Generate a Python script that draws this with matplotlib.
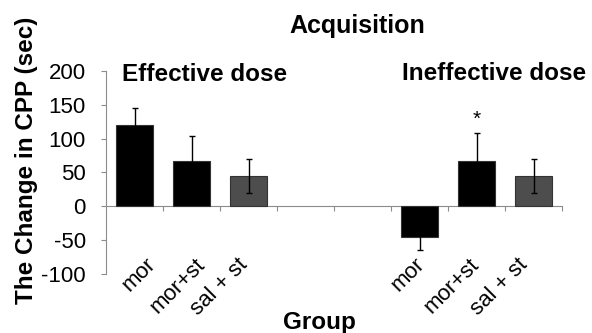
import numpy as np
import matplotlib
matplotlib.use("Agg")
import matplotlib.pyplot as plt
import matplotlib.transforms as mtransforms

plt.rcParams['font.family'] = ['Liberation Sans', 'DejaVu Sans']
plt.rcParams['axes.unicode_minus'] = False

categories = ['mor', 'mor+st', 'sal + st', '', '', 'mor', 'mor+st', 'sal + st']
values = [120, 67, 45, np.nan, np.nan, -45, 67, 45]
errors = [25, 37, 25, np.nan, np.nan, 19, 41, 25]
colors = ['#000000', '#000000', '#4d4d4d', '#000000', '#000000', '#000000', '#000000', '#4d4d4d']
group_labels = ['Effective dose', 'Ineffective dose']
yticks = [-100, -50, 0, 50, 100, 150, 200]

# horizontal nudges (pixels) of the rotated category labels, as in the original layout
label_nudge_px = [6, -2, -16, 0, 0, -10, -13, -21]

axis_gray = '#8c8c8c'

fig = plt.figure(figsize=(5.92, 3.33), dpi=100)
ax = fig.add_axes([106/592, 1 - 274/333, 456/592, 203/333])

x = np.arange(len(categories))
ax.bar(x, values, width=0.65, color=colors, edgecolor='#333333', linewidth=0.8, zorder=2)
ax.errorbar(x, values, yerr=errors, fmt='none', ecolor='black', elinewidth=1,
            capsize=2.5, capthick=1, zorder=3)

ax.set_xlim(-0.5, len(categories) - 0.5)
ax.set_ylim(-100, 200)
ax.set_yticks(yticks)
ax.tick_params(axis='y', labelsize=16, length=3.5, width=0.8, color=axis_gray, pad=11)

for s in ['top', 'right', 'bottom']:
    ax.spines[s].set_visible(False)
ax.spines['left'].set_color(axis_gray)
ax.spines['left'].set_linewidth(0.8)

# category labels
ax.set_xticks(x)
ax.set_xticklabels(categories, fontsize=16, rotation=45, ha='right', va='top',
                   rotation_mode='anchor')
ax.tick_params(axis='x', length=0, pad=0)
for lab, dx in zip(ax.get_xticklabels(), label_nudge_px):
    off = mtransforms.ScaledTranslation((5 + dx) / 100, 20 / 100, fig.dpi_scale_trans)
    lab.set_transform(lab.get_transform() + off)

# zero line with separator ticks
ymin, ymax = ax.get_ylim()
sec = ax.secondary_xaxis((0 - ymin) / (ymax - ymin))
sec.set_xticks(np.arange(0.5, len(categories) - 0.5 + 0.01, 1.0))
sec.set_xticklabels([])
sec.tick_params(axis='x', length=3.5, width=0.8, color=axis_gray, direction='out')
for s in sec.spines.values():
    s.set_color(axis_gray)
    s.set_linewidth(0.8)

# annotations
ax.text(1.23, 195, group_labels[0], fontsize=17.5, fontweight='bold', ha='center', va='center')
ax.text(6.30, 197, group_labels[1], fontsize=17.5, fontweight='bold', ha='center', va='center')
ax.text(6, values[6] + errors[6] + 21, '*', fontsize=15, ha='center', va='center')

ax.set_title('Acquisition', fontsize=18, fontweight='bold', x=0.55, y=1.187, pad=0)
ax.set_ylabel('The Change in CPP (sec)', fontsize=17.5, fontweight='bold')
ax.yaxis.set_label_coords(-0.15, 0.562)
ax.set_xlabel('Group', fontsize=17.5, fontweight='bold')
ax.xaxis.set_label_coords(0.469, -0.182)

fig.savefig('out.png', dpi=100)
